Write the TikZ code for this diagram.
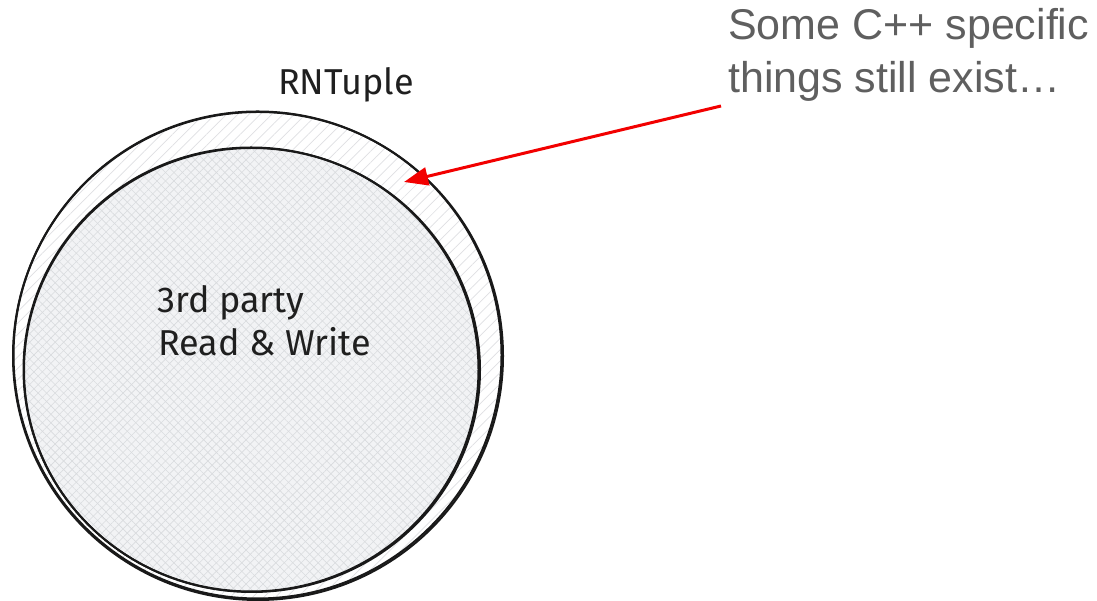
\documentclass[tikz,border=0pt]{standalone}
\usepackage{fontspec}
\setmainfont{Liberation Sans}
\newfontfamily\handfont{Fira Sans}
\usetikzlibrary{patterns.meta,arrows.meta}
\definecolor{notegray}{HTML}{5F5F5F}
\definecolor{innerfill}{HTML}{F2F3F5}
\definecolor{hatch}{HTML}{D9DBDE}
\definecolor{arrowred}{HTML}{F20000}
\tikzset{
  ring/.style={draw=black!90, line width=2pt},
  handtext/.style={font=\handfont\fontsize{36}{42}\selectfont, text=black!88, inner sep=0pt},
  notetext/.style={font=\fontsize{43}{50}\selectfont, text=notegray, inner sep=0pt},
  pointer/.style={draw=arrowred, line width=3pt, -{Triangle[length=24pt,width=18pt]}}
}
\begin{document}
\begin{tikzpicture}[x=1pt,y=1pt]
\useasboundingbox (0,0) rectangle (1097,601);
% outer circle (RNTuple)
\fill[white] (258,245) ellipse [x radius=245, y radius=244];
\fill[pattern={Lines[angle=45,distance=8pt,line width=0.7pt]}, pattern color=hatch!85] (258,245) ellipse [x radius=245, y radius=244];
% inner circle (3rd party)
\fill[innerfill] (252,231) ellipse [x radius=228, y radius=222];
\fill[pattern={Lines[angle=45,distance=6pt,line width=0.6pt]}, pattern color=hatch] (252,231) ellipse [x radius=228, y radius=222];
\fill[pattern={Lines[angle=-45,distance=6pt,line width=0.6pt]}, pattern color=hatch] (252,231) ellipse [x radius=228, y radius=222];
% sketchy double strokes
\draw[ring] (258,245) ellipse [x radius=245, y radius=244];
\draw[ring] (257.5,246) ellipse [x radius=244, y radius=243.5];
\draw[ring] (252,231) ellipse [x radius=228, y radius=222];
\draw[ring] (251,231.5) ellipse [x radius=227.5, y radius=222];
% labels
\node[handtext, anchor=base] (rnt) at (346,506) {RNTuple};
\node[handtext, anchor=base west] (p1) at (157,288) {3rd party};
\node[handtext, anchor=base west] (p2) at (158,245) {Read \& Write};
\node[notetext, anchor=base west] (n1) at (728,561) {Some C++ specific};
\node[notetext, anchor=base west] (n2) at (728,508) {things still exist…};
% arrow
\coordinate (from) at (721,495);
\coordinate (tip) at (404,419);
\draw[pointer] (from) -- (tip);
\end{tikzpicture}
\end{document}
